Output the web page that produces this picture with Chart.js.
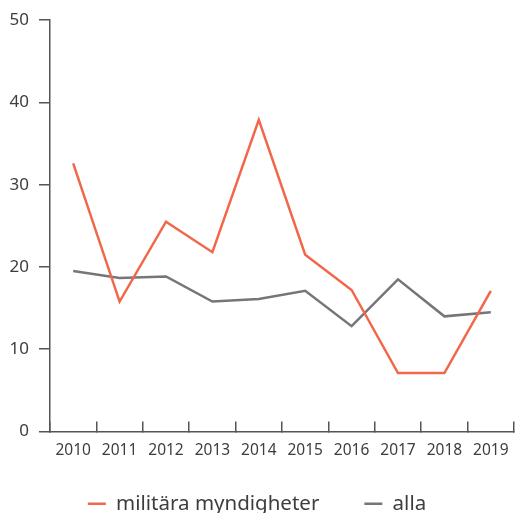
<!DOCTYPE html>
<html>
<head>
<meta charset="utf-8">
<script src="https://cdn.jsdelivr.net/npm/chart.js@4"></script>
<style>
  html, body { margin: 0; padding: 0; background: #fff; }
  #wrap { width: 515px; height: 513px; }
</style>
</head>
<body>
<div id="wrap"><canvas id="line"></canvas></div>
<script>
const years = ["2010", "2011", "2012", "2013", "2014", "2015", "2016", "2017", "2018", "2019"];
const militara = [32.6, 15.8, 25.5, 21.8, 37.9, 21.5, 17.2, 7.1, 7.1, 17.1];
const alla = [19.5, 18.65, 18.85, 15.8, 16.1, 17.1, 12.8, 18.5, 14.0, 14.5];
const yTicks = [0, 10, 20, 30, 40, 50];

const axisColor = "#555555";
const textColor = "#3d3d3d";
const fontName = "Noto Sans";

// the x labels hang below the scale box, so let the box reach down far enough
// that chart.js does not clip them away
const labelRoom = {
  id: "labelRoom",
  afterLayout(chart) {
    chart.scales.x.bottom += 30;
  },
};

const ctx = document.getElementById("line");

new Chart(ctx, {
  type: "line",
  data: {
    labels: years,
    datasets: [
      {
        label: "militära myndigheter",
        data: militara,
        borderColor: "#f2674a",
        backgroundColor: "#f2674a",
        borderWidth: 2.5,
        pointRadius: 0,
      },
      {
        label: "alla",
        data: alla,
        borderColor: "#76767a",
        backgroundColor: "#76767a",
        borderWidth: 2.5,
        pointRadius: 0,
      },
    ],
  },
  plugins: [labelRoom],
  options: {
    responsive: true,
    maintainAspectRatio: false,
    animation: false,
    layout: { padding: { top: 9, right: 1, left: 0, bottom: -11 } },
    plugins: {
      tooltip: { enabled: false },
      legend: {
        position: "bottom",
        labels: {
          usePointStyle: true,
          pointStyle: "line",
          pointStyleWidth: 18,
          boxHeight: 3,
          padding: 45,
          color: textColor,
          font: { family: fontName, size: 20.5 },
        },
      },
    },
    scales: {
      x: {
        offset: true,
        afterFit: (scale) => {
          scale.height = 17;
          scale.paddingLeft = 0;
          scale.paddingRight = 0;
        },
        grid: {
          offset: true,
          drawOnChartArea: false,
          drawTicks: true,
          tickLength: -10,
          color: axisColor,
          lineWidth: 1.5,
        },
        border: { color: axisColor, width: 1.5 },
        ticks: {
          color: textColor,
          font: { family: fontName, size: 15.5 },
          padding: 20,
          maxRotation: 0,
          autoSkip: false,
        },
      },
      y: {
        min: 0,
        max: 50,
        afterBuildTicks: (scale) => {
          scale.ticks = yTicks.map((v) => ({ value: v }));
        },
        afterFit: (scale) => {
          scale.width = 50;
        },
        grid: {
          drawOnChartArea: false,
          drawTicks: true,
          tickLength: 11,
          color: axisColor,
          lineWidth: 1.5,
        },
        border: { color: axisColor, width: 1.5 },
        ticks: {
          color: textColor,
          font: { family: fontName, size: 17 },
          padding: 10,
        },
      },
    },
  },
});
</script>
</body>
</html>
